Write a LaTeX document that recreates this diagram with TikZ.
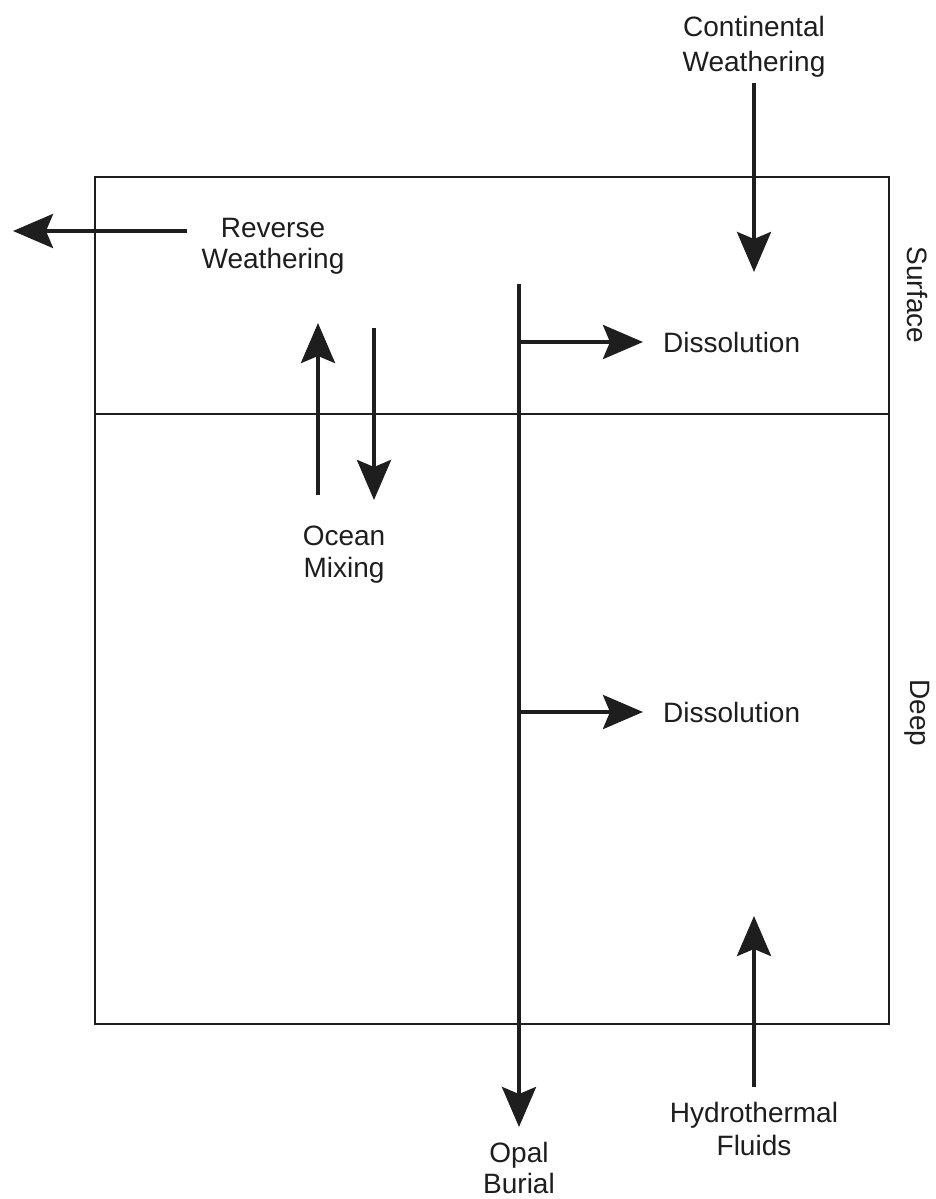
\documentclass[tikz,border=0pt]{standalone}
\usepackage{fontspec}
\setmainfont{Liberation Sans}
\usetikzlibrary{arrows.meta}
\definecolor{ink}{HTML}{1E1E1E}
\begin{document}
\begin{tikzpicture}[x=1pt,y=-1pt,
  flux/.style={line width=4pt, draw=ink, -{Stealth[length=40pt,width=34pt,inset=7pt]}},
  frame/.style={line width=2pt, draw=ink},
  label/.style={font=\fontsize{28}{33}\selectfont, text=ink, align=center, inner sep=0pt, anchor=base},
  side/.style={font=\fontsize{28}{33}\selectfont, text=ink, inner sep=0pt, rotate=-90, anchor=center}]
\useasboundingbox[fill=white] (0,0) rectangle (935,1199);

% ocean reservoirs
\draw[frame] (95,177) rectangle (889,1024);
\draw[frame] (95,414) -- (889,414);
\node[side] (surface) at (917,295) {Surface};
\node[side] (deep) at (917,713) {Deep};

% labels (anchored at the baseline of their last line)
\node[label] (cw) at (754,71) {Continental\\[2pt]Weathering};
\node[label] (rw) at (273,268) {Reverse\\[-2pt]Weathering};
\node[label] (om) at (344,577) {Ocean\\[-1pt]Mixing};
\node[label] (ob) at (519,1193) {Opal\\[-2pt]Burial};
\node[label] (hf) at (754,1155) {Hydrothermal\\Fluids};
\node[label, anchor=base west] (ds) at (663,352) {Dissolution};
\node[label, anchor=base west] (dd) at (663,722) {Dissolution};

% arrow end points
\coordinate (cw-a) at (754,83);   \coordinate (cw-b) at (754,272);
\coordinate (rw-a) at (187,231);  \coordinate (rw-b) at (13,231);
\coordinate (up-a) at (318,495);  \coordinate (up-b) at (318,323);
\coordinate (dn-a) at (374,328);  \coordinate (dn-b) at (374,500);
\coordinate (ob-a) at (519,284);  \coordinate (ob-b) at (519,1127);
\coordinate (ds-a) at (519,342);  \coordinate (ds-b) at (643,342);
\coordinate (dd-a) at (519,712);  \coordinate (dd-b) at (643,712);
\coordinate (hf-a) at (754,1087); \coordinate (hf-b) at (754,916);

% fluxes
\draw[flux] (cw-a) -- (cw-b);
\draw[flux] (rw-a) -- (rw-b);
\draw[flux] (up-a) -- (up-b);
\draw[flux] (dn-a) -- (dn-b);
\draw[flux] (ob-a) -- (ob-b);
\draw[flux] (ds-a) -- (ds-b);
\draw[flux] (dd-a) -- (dd-b);
\draw[flux] (hf-a) -- (hf-b);
\end{tikzpicture}
\end{document}
